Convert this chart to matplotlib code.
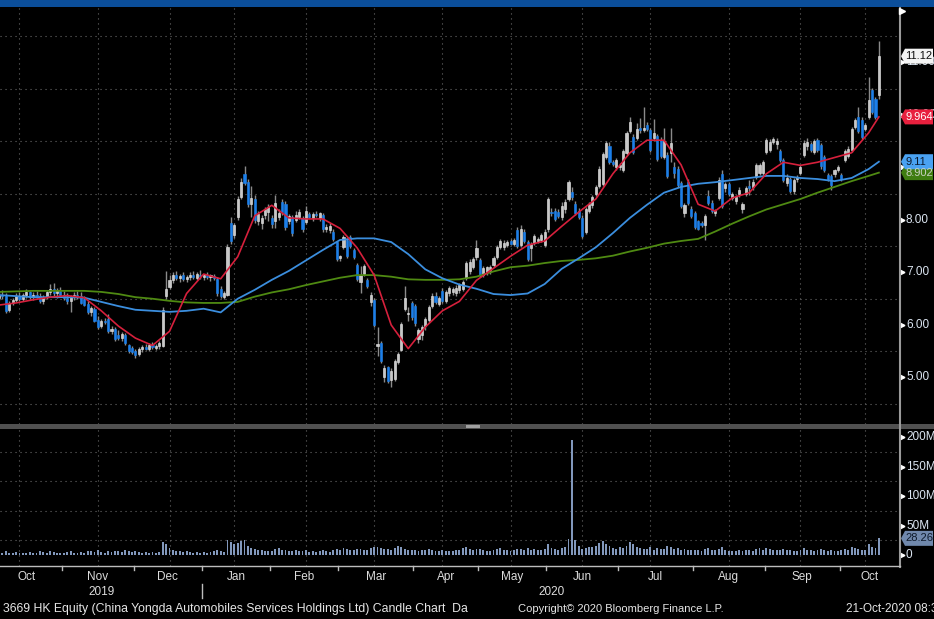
import numpy as np
import pandas as pd
import matplotlib
matplotlib.use('Agg')
import matplotlib.pyplot as plt
import matplotlib.transforms as mtransforms
from matplotlib.patches import Polygon, Rectangle
from matplotlib.lines import Line2D

plt.rcParams['font.family'] = ['Liberation Sans', 'DejaVu Sans']

# ---- data: daily candles (open, high, low, close) ----
oct19 = [(6.52, 6.62, 6.48, 6.58), (6.58, 6.66, 6.50, 6.55), (6.56, 6.60, 6.22, 6.27), (6.28, 6.45, 6.25, 6.42),
         (6.42, 6.52, 6.38, 6.48), (6.48, 6.60, 6.44, 6.56), (6.56, 6.62, 6.46, 6.50), (6.50, 6.60, 6.45, 6.57),
         (6.57, 6.68, 6.52, 6.62), (6.62, 6.65, 6.50, 6.53), (6.53, 6.62, 6.48, 6.58), (6.58, 6.64, 6.52, 6.55),
         (6.55, 6.60, 6.42, 6.46), (6.46, 6.58, 6.40, 6.54), (6.54, 6.66, 6.50, 6.62), (6.62, 6.78, 6.58, 6.68),
         (6.68, 6.80, 6.55, 6.60), (6.60, 6.70, 6.52, 6.65), (6.65, 6.72, 6.55, 6.58)]
nov19 = [(6.58, 6.64, 6.48, 6.52), (6.52, 6.60, 6.40, 6.45), (6.45, 6.58, 6.24, 6.55), (6.55, 6.62, 6.48, 6.58),
         (6.58, 6.64, 6.50, 6.56), (6.56, 6.62, 6.40, 6.42), (6.50, 6.55, 6.36, 6.38), (6.40, 6.46, 6.20, 6.24),
         (6.24, 6.36, 6.18, 6.32), (6.30, 6.34, 6.05, 6.08), (6.10, 6.18, 5.92, 5.96), (5.98, 6.12, 5.94, 6.08),
         (6.08, 6.14, 6.02, 6.05), (6.12, 6.20, 5.84, 5.88), (5.88, 5.98, 5.82, 5.93), (5.92, 5.96, 5.70, 5.74),
         (5.80, 5.90, 5.72, 5.76), (5.76, 5.86, 5.70, 5.82), (5.80, 5.84, 5.62, 5.66), (5.62, 5.64, 5.46, 5.50),
         (5.56, 5.60, 5.44, 5.48)]
dec19 = [(5.50, 5.54, 5.38, 5.42), (5.44, 5.58, 5.40, 5.54), (5.54, 5.62, 5.48, 5.58), (5.58, 5.64, 5.52, 5.55),
         (5.55, 5.66, 5.50, 5.62), (5.62, 5.68, 5.55, 5.58), (5.56, 5.64, 5.52, 5.60), (5.60, 5.70, 5.55, 5.66),
         (5.60, 6.34, 5.58, 6.28), (6.55, 7.02, 6.50, 6.68), (6.72, 6.95, 6.68, 6.86), (6.86, 7.00, 6.80, 6.95),
         (6.95, 7.02, 6.86, 6.90), (6.90, 6.98, 6.82, 6.94), (6.96, 7.00, 6.84, 6.87), (6.88, 6.96, 6.82, 6.92),
         (6.92, 7.00, 6.86, 6.96), (6.96, 7.02, 6.88, 6.92), (6.90, 7.00, 6.86, 6.97), (6.96, 7.04, 6.88, 6.93)]
jan20 = [(6.92, 6.98, 6.86, 6.95), (6.95, 7.00, 6.88, 6.92), (6.92, 6.98, 6.84, 6.96), (6.94, 6.98, 6.86, 6.90),
         (6.88, 6.92, 6.55, 6.60), (6.68, 6.75, 6.52, 6.56), (6.54, 6.64, 6.50, 6.60), (6.58, 7.55, 6.55, 7.48),
         (7.95, 8.05, 7.55, 7.60), (7.72, 7.95, 7.66, 7.90), (8.05, 8.45, 8.00, 8.40), (8.44, 8.80, 8.40, 8.72),
         (8.88, 9.03, 8.66, 8.70), (8.72, 8.78, 8.25, 8.30), (8.30, 8.65, 8.05, 8.42), (8.40, 8.48, 7.95, 8.00),
         (7.98, 8.18, 7.90, 8.12), (7.94, 8.10, 7.82, 8.04), (8.10, 8.25, 8.02, 8.20), (8.16, 8.30, 7.98, 8.24)]
feb20 = [(8.04, 8.10, 7.85, 7.92), (7.98, 8.48, 7.84, 8.32), (8.06, 8.20, 8.00, 8.14), (8.35, 8.40, 8.10, 8.15),
         (8.30, 8.36, 7.80, 7.86), (7.98, 8.12, 7.92, 8.08), (8.05, 8.10, 7.70, 7.76), (8.00, 8.18, 7.96, 8.10),
         (8.06, 8.20, 8.02, 8.16), (8.04, 8.08, 7.78, 7.82), (7.96, 8.26, 7.92, 8.18), (8.12, 8.16, 8.04, 8.06),
         (8.04, 8.16, 7.98, 8.12), (8.12, 8.18, 8.06, 8.10), (8.04, 8.16, 7.98, 8.14), (8.10, 8.14, 7.78, 7.82),
         (7.82, 7.92, 7.78, 7.86), (7.80, 7.94, 7.76, 7.88), (7.78, 7.82, 7.60, 7.64), (7.58, 7.60, 7.22, 7.26)]
mar20 = [(7.28, 7.34, 7.22, 7.30), (7.48, 7.72, 7.44, 7.68), (7.62, 7.66, 7.28, 7.32), (7.68, 7.72, 7.46, 7.50),
         (7.42, 7.46, 7.26, 7.30), (7.14, 7.18, 6.84, 6.88), (6.82, 7.12, 6.60, 6.96), (6.98, 7.16, 6.94, 7.12),
         (6.86, 6.90, 6.70, 6.74), (6.44, 6.62, 6.36, 6.58), (6.48, 6.52, 5.96, 6.00), (5.60, 5.96, 5.40, 5.64),
         (5.66, 5.70, 5.28, 5.32), (5.00, 5.24, 4.92, 5.18), (5.20, 5.22, 4.90, 4.94), (4.96, 5.18, 4.82, 5.12),
         (4.98, 5.36, 4.94, 5.32), (5.30, 5.48, 5.26, 5.44), (5.52, 6.06, 5.50, 6.02), (6.30, 6.74, 6.26, 6.52),
         (6.20, 6.34, 6.08, 6.22), (6.42, 6.46, 6.10, 6.16)]
apr20 = [(6.36, 6.40, 5.98, 6.04), (5.74, 5.94, 5.66, 5.90), (5.80, 6.00, 5.72, 5.96), (5.98, 6.16, 5.90, 6.12),
         (6.10, 6.38, 6.06, 6.34), (6.36, 6.60, 6.32, 6.56), (6.56, 6.62, 6.40, 6.44), (6.40, 6.56, 6.36, 6.52),
         (6.64, 6.70, 6.42, 6.46), (6.46, 6.66, 6.42, 6.62), (6.60, 6.74, 6.56, 6.70), (6.62, 6.72, 6.58, 6.68),
         (6.60, 6.76, 6.56, 6.70), (6.66, 6.80, 6.60, 6.76), (6.68, 6.86, 6.64, 6.82), (6.90, 7.22, 6.86, 7.18),
         (7.02, 7.26, 6.98, 7.20), (7.10, 7.30, 7.06, 7.26), (7.30, 7.62, 7.24, 7.46)]
may20 = [(7.24, 7.28, 6.92, 6.96), (6.96, 7.12, 6.92, 7.08), (7.00, 7.12, 6.96, 7.10), (7.02, 7.14, 6.98, 7.10),
         (7.14, 7.32, 7.10, 7.28), (7.30, 7.52, 7.26, 7.48), (7.48, 7.64, 7.44, 7.60), (7.48, 7.62, 7.42, 7.56),
         (7.52, 7.62, 7.48, 7.58), (7.60, 7.64, 7.52, 7.55), (7.54, 7.66, 7.50, 7.62), (7.80, 7.86, 7.46, 7.50),
         (7.52, 7.90, 7.48, 7.82), (7.78, 7.82, 7.56, 7.60), (7.58, 7.62, 7.22, 7.26), (7.46, 7.58, 7.22, 7.54),
         (7.56, 7.74, 7.52, 7.70), (7.60, 7.68, 7.56, 7.64), (7.62, 7.76, 7.58, 7.72), (7.52, 7.82, 7.48, 7.78)]
jun20 = [(7.82, 8.44, 7.78, 8.40), (8.16, 8.22, 8.08, 8.14), (8.18, 8.22, 7.98, 8.02), (8.16, 8.20, 8.04, 8.08),
         (8.06, 8.34, 8.00, 8.26), (8.20, 8.40, 8.14, 8.34), (8.40, 8.76, 8.36, 8.72), (8.54, 8.62, 8.38, 8.44),
         (8.30, 8.36, 8.10, 8.14), (8.18, 8.22, 8.02, 8.06), (8.04, 8.10, 7.66, 7.70), (7.78, 8.24, 7.74, 8.20),
         (8.18, 8.34, 8.14, 8.30), (8.28, 8.48, 8.22, 8.44), (8.50, 8.66, 8.46, 8.62), (8.64, 9.02, 8.60, 8.98),
         (8.68, 9.30, 8.64, 9.26), (9.20, 9.50, 9.16, 9.46), (9.40, 9.48, 9.06, 9.10), (9.10, 9.14, 9.02, 9.06),
         (9.00, 9.18, 8.96, 9.14)]
jul20 = [(9.00, 9.08, 8.96, 9.04), (8.96, 9.36, 8.92, 9.32), (9.28, 9.70, 9.24, 9.66), (9.70, 9.96, 9.66, 9.86),
         (9.58, 9.64, 9.26, 9.30), (9.56, 9.84, 9.52, 9.74), (9.76, 9.94, 9.66, 9.72), (9.72, 10.15, 9.68, 9.76),
         (9.80, 9.86, 9.70, 9.74), (9.72, 9.76, 9.30, 9.34), (9.56, 9.92, 9.50, 9.66), (9.60, 9.64, 9.12, 9.16),
         (9.52, 9.58, 9.18, 9.22), (9.20, 9.76, 9.16, 9.50), (9.24, 9.30, 8.80, 8.84), (9.28, 9.76, 9.10, 9.46),
         (9.00, 9.10, 8.80, 8.90), (8.98, 9.02, 8.62, 8.66), (8.70, 8.74, 8.22, 8.26), (8.14, 8.32, 8.06, 8.28),
         (8.72, 8.78, 8.28, 8.32), (8.20, 8.26, 8.04, 8.08)]
aug20 = [(8.14, 8.18, 7.82, 7.86), (7.98, 8.00, 7.80, 7.82), (7.94, 7.98, 7.86, 7.90), (7.90, 8.12, 7.62, 8.08),
         (8.46, 8.58, 8.28, 8.32), (8.32, 8.38, 8.14, 8.18), (8.14, 8.20, 8.08, 8.18), (8.42, 8.82, 8.38, 8.76),
         (8.88, 8.96, 8.22, 8.26), (8.60, 8.72, 8.54, 8.68), (8.68, 8.72, 8.46, 8.50), (8.42, 8.54, 8.38, 8.50),
         (8.36, 8.48, 8.30, 8.44), (8.50, 8.62, 8.44, 8.58), (8.20, 8.34, 8.14, 8.30), (8.50, 8.64, 8.46, 8.60),
         (8.64, 8.76, 8.48, 8.60), (8.62, 8.78, 8.58, 8.72), (8.82, 9.08, 8.78, 9.04), (8.90, 9.08, 8.86, 9.04),
         (8.90, 9.14, 8.86, 9.10)]
sep20 = [(9.30, 9.56, 9.26, 9.52), (9.34, 9.54, 9.30, 9.48), (9.48, 9.58, 9.44, 9.54), (9.44, 9.56, 9.36, 9.50),
         (9.32, 9.36, 9.10, 9.14), (9.14, 9.18, 8.72, 8.76), (8.70, 8.88, 8.64, 8.80), (8.78, 8.82, 8.52, 8.56),
         (8.56, 8.80, 8.50, 8.76), (8.78, 8.86, 8.72, 8.82), (8.90, 9.04, 8.86, 9.00), (9.24, 9.52, 9.20, 9.46),
         (9.40, 9.56, 9.34, 9.48), (9.44, 9.48, 9.30, 9.34), (9.30, 9.54, 9.26, 9.50), (9.52, 9.56, 9.30, 9.34),
         (9.42, 9.46, 8.98, 9.02), (9.20, 9.24, 8.92, 8.96), (8.86, 8.90, 8.74, 8.78), (8.84, 8.88, 8.58, 8.66),
         (8.88, 8.98, 8.82, 8.95), (8.96, 9.04, 8.92, 9.00)]
oct20 = [(8.86, 8.90, 8.74, 8.78), (9.14, 9.36, 9.10, 9.32), (9.22, 9.40, 9.18, 9.36), (9.34, 9.78, 9.30, 9.74),
         (9.78, 9.94, 9.74, 9.90), (9.96, 10.15, 9.66, 9.70), (9.90, 9.96, 9.54, 9.58), (9.74, 9.84, 9.70, 9.80),
         (9.96, 10.72, 9.92, 10.28), (10.48, 10.52, 10.02, 10.06), (10.30, 10.34, 9.92, 9.96), (10.38, 11.40, 10.30, 11.12)]

# volume, millions
vol_oct19 = [4, 3, 6, 4, 3, 5, 4, 3, 4, 5, 3, 4, 6, 5, 4, 7, 5, 4, 3]
vol_nov19 = [4, 5, 6, 4, 3, 5, 4, 6, 7, 5, 8, 5, 4, 6, 5, 7, 6, 5, 8, 6, 5]
vol_dec19 = [6, 5, 4, 5, 4, 5, 4, 5, 22, 18, 12, 8, 6, 7, 5, 6, 5, 4, 5, 4]
vol_jan20 = [5, 4, 5, 6, 8, 6, 5, 25, 22, 18, 20, 24, 26, 15, 12, 10, 8, 9, 7, 6]
vol_feb20 = [7, 10, 12, 8, 9, 7, 6, 8, 7, 6, 8, 5, 6, 5, 7, 9, 6, 5, 8, 10]
vol_mar20 = [8, 12, 10, 9, 8, 11, 10, 9, 8, 12, 14, 13, 12, 10, 11, 9, 12, 16, 14, 10, 8, 9]
vol_apr20 = [8, 7, 8, 9, 10, 8, 7, 6, 8, 7, 6, 7, 8, 9, 12, 14, 10, 9, 11]
vol_may20 = [10, 8, 7, 6, 8, 10, 12, 9, 8, 7, 8, 11, 10, 9, 12, 9, 10, 8, 9, 10]
vol_jun20 = [18, 12, 10, 9, 12, 14, 28, 195, 25, 15, 10, 12, 14, 13, 15, 20, 24, 18, 16, 12, 10]
vol_jul20 = [14, 12, 16, 22, 18, 14, 12, 10, 11, 14, 9, 12, 11, 10, 16, 13, 10, 12, 9, 10, 8, 9]
vol_aug20 = [9, 8, 7, 10, 12, 9, 8, 11, 13, 8, 7, 6, 7, 8, 6, 9, 8, 7, 10, 12, 9]
vol_sep20 = [12, 10, 9, 8, 9, 11, 8, 9, 7, 6, 8, 12, 9, 8, 7, 9, 11, 8, 7, 9, 6, 7]
vol_oct20 = [8, 10, 9, 14, 12, 10, 9, 8, 18, 14, 12, 28.268]

# moving averages, sampled every 5th session (last point = last session)
ma_red = [6.38, 6.42, 6.48, 6.53, 6.56, 6.52, 6.27, 5.98, 5.75, 5.61, 5.88, 6.60, 6.97, 6.88, 7.30,
          8.08, 8.28, 8.04, 8.02, 8.02, 7.84, 7.47, 6.95, 6.00, 5.55, 5.96, 6.27, 6.45, 6.85, 7.08,
          7.31, 7.52, 7.60, 7.88, 8.15, 8.40, 8.88, 9.28, 9.52, 9.52, 9.05, 8.30, 8.17, 8.42, 8.52,
          8.88, 9.10, 9.04, 9.10, 9.19, 9.28, 9.66, 9.964]
ma_blue = [6.57, 6.55, 6.53, 6.53, 6.53, 6.52, 6.44, 6.36, 6.29, 6.27, 6.25, 6.27, 6.31, 6.24, 6.50,
           6.67, 6.86, 7.03, 7.23, 7.43, 7.62, 7.65, 7.65, 7.58, 7.35, 7.06, 6.89, 6.77, 6.69, 6.59,
           6.57, 6.60, 6.78, 7.07, 7.27, 7.48, 7.75, 8.04, 8.29, 8.52, 8.63, 8.69, 8.72, 8.76, 8.80,
           8.84, 8.84, 8.80, 8.78, 8.74, 8.80, 8.97, 9.11]
ma_green = [6.63, 6.64, 6.65, 6.65, 6.65, 6.65, 6.63, 6.59, 6.53, 6.50, 6.46, 6.43, 6.42, 6.42, 6.44,
            6.54, 6.62, 6.68, 6.76, 6.83, 6.90, 6.95, 6.95, 6.92, 6.87, 6.86, 6.86, 6.87, 6.92, 7.02,
            7.10, 7.13, 7.18, 7.22, 7.24, 7.27, 7.32, 7.40, 7.47, 7.55, 7.60, 7.64, 7.78, 7.93, 8.07,
            8.20, 8.30, 8.40, 8.52, 8.63, 8.74, 8.84, 8.902]

hk_holidays = ['2019-10-07', '2019-12-25', '2019-12-26', '2020-01-01', '2020-01-27', '2020-01-28',
               '2020-04-10', '2020-04-13', '2020-04-30', '2020-05-01', '2020-06-25', '2020-07-01',
               '2020-10-01', '2020-10-02', '2020-10-13']
month_names = ['Oct', 'Nov', 'Dec', 'Jan', 'Feb', 'Mar', 'Apr', 'May', 'Jun', 'Jul', 'Aug', 'Sep', 'Oct']

candles = oct19 + nov19 + dec19 + jan20 + feb20 + mar20 + apr20 + may20 + jun20 + jul20 + aug20 + sep20 + oct20
volume = (vol_oct19 + vol_nov19 + vol_dec19 + vol_jan20 + vol_feb20 + vol_mar20 + vol_apr20 + vol_may20
          + vol_jun20 + vol_jul20 + vol_aug20 + vol_sep20 + vol_oct20)

dates = pd.bdate_range('2019-10-04', '2020-10-21')
dates = dates[~dates.isin(pd.to_datetime(hk_holidays))]
n = len(dates)
o, h, l, c = np.array(candles[:n]).T
x = np.arange(n)
ma_x = list(range(0, n, 5)) + [n - 1]

# ---- figure ----
W, H = 934, 619
fig = plt.figure(figsize=(W / 100, H / 100), dpi=100, facecolor='black')
ident = mtransforms.IdentityTransform()
FS = 8.5


def py(v):
    # pixel row from top -> display y
    return H - v


ax = fig.add_axes([0, 1 - 424 / H, 899 / W, (424 - 8) / H])
axv = fig.add_axes([0, 1 - 566 / H, 899 / W, (566 - 429) / H])
XL = (0.293, 263.9)
for a in (ax, axv):
    a.set_facecolor('black')
    a.set_xlim(*XL)
    for s in a.spines.values():
        s.set_visible(False)
    a.set_xticks([])
    a.set_yticks([])
ax.set_ylim(4.114, 12.038)
axv.set_ylim(-18.6, 213.6)

# grid lines: mid-month verticals, half-unit horizontals
mid_idx = []
month_first = []
for per in pd.period_range('2019-10', '2020-10', freq='M'):
    inm = np.where(dates.to_period('M') == per)[0]
    month_first.append(inm[0])
    d15 = np.where((dates.to_period('M') == per) & (dates.day >= 15))[0]
    if len(d15):
        mid_idx.append(d15[0])
gstyle = dict(color='#6a6a6a', lw=0.8, linestyle=(0, (1, 3.5)), zorder=0)
for gx in mid_idx:
    ax.axvline(gx, **gstyle)
    axv.axvline(gx, **gstyle)
for gy in np.arange(4.5, 12, 1.0):
    ax.axhline(gy, **gstyle)
for gy in [25, 75, 125, 175]:
    axv.axhline(gy, **gstyle)

# candles
up = c >= o
body = c - o
body = np.where(np.abs(body) < 0.025, np.where(up, 0.025, -0.025), body)
ax.vlines(x, l, h, color='#8a8a8a', lw=1.0, zorder=2)
ax.bar(x[up], body[up], bottom=o[up], width=0.62, color='#c8c8c8', edgecolor='#ececec', lw=0.4, zorder=3)
ax.bar(x[~up], body[~up], bottom=o[~up], width=0.62, color='#1b7fea', edgecolor='#1b7fea', lw=0.4, zorder=3)

# moving averages
ax.plot(ma_x, ma_green, color='#4f8a12', lw=1.3, zorder=4)
ax.plot(ma_x, ma_blue, color='#3b8ede', lw=1.3, zorder=4)
ax.plot(ma_x, ma_red, color='#d6203c', lw=1.2, zorder=5)

# volume bars
axv.bar(x, volume[:n], width=0.55, color='#8298bc', zorder=2)

# right axis labels with little arrow markers
lab_kw = dict(color='#dce6f2', fontsize=FS, va='center', ha='left')
bl = mtransforms.blended_transform_factory(ax.transAxes, ax.transData)
for p in range(5, 12):
    ax.text(1.0 + 7 / 899, p, '%.2f' % p, transform=bl, clip_on=False, **lab_kw)
    ax.plot([1.0 + 2.5 / 899], [p], marker='>', ms=3.5, color='white', transform=bl, clip_on=False)
blv = mtransforms.blended_transform_factory(axv.transAxes, axv.transData)
for vv, lab in [(0, '0'), (50, '50M'), (100, '100M'), (150, '150M'), (200, '200M')]:
    axv.text(1.0 + 7 / 899, vv, lab, transform=blv, clip_on=False, **lab_kw)
    axv.plot([1.0 + 2.5 / 899], [vv], marker='>', ms=3.5, color='white', transform=blv, clip_on=False)


def tag(a, val, txt, fc, tc):
    yc = a.transData.transform((0, val))[1]
    x0, x1, x2 = 901, 905, 933
    hh = 7.5
    poly = Polygon([(x0, yc), (x1, yc + hh), (x2, yc + hh), (x2, yc - hh), (x1, yc - hh)],
                   closed=True, facecolor=fc, edgecolor='none', transform=ident, zorder=10)
    fig.add_artist(poly)
    fig.text(x1 + 0.5, yc, txt, color=tc, fontsize=8, va='center', ha='left', transform=ident, zorder=11)


tag(ax, 11.12, '11.12', '#f4f4f4', '#101010')
tag(ax, 9.964, '9.964', '#e8203e', '#ffffff')
tag(ax, 8.902, '8.902', '#3f7d10', '#c8d0c0')
tag(ax, 9.11, '9.11', '#4aa2f2', '#0a1a30')
tag(axv, 28.268, '28.268', '#7088ac', '#0e1a2c')

# frame pieces: top band, panel splitter, right spine, bottom line
fig.add_artist(Rectangle((0, py(7)), W, 7, facecolor='#0b4e9a', edgecolor='none', transform=ident))
fig.add_artist(Rectangle((0, py(429)), W, 5, facecolor='#505050', edgecolor='none', transform=ident))
fig.add_artist(Rectangle((466, py(428)), 14, 3, facecolor='#a0a0a0', edgecolor='none', transform=ident))
fig.add_artist(Line2D([900, 900], [py(8), py(567)], color='#9a9a9a', lw=1.5, transform=ident))
fig.add_artist(Line2D([0, 900], [py(566), py(566)], color='#bdbdbd', lw=1.0, transform=ident))
fig.add_artist(Line2D([902], [py(11)], marker='>', ms=4, color='white', transform=ident))


# month ticks and labels along the bottom
def xpix(i):
    return ax.transData.transform((i, 0))[0]


bounds = [b - 0.5 for b in month_first] + [n - 0.5]
for b in month_first[1:]:
    xp = xpix(b - 0.5)
    fig.add_artist(Line2D([xp, xp], [py(566), py(570)], color='#bdbdbd', lw=1.0, transform=ident))
for k, name in enumerate(month_names):
    lo = max(bounds[k], XL[0])
    hi = min(bounds[k + 1], XL[1]) if k < len(month_names) - 1 else XL[1]
    fig.text(xpix((lo + hi) / 2) - (4 if k == 0 else 0), py(577), name, color='#dcdcdc', fontsize=FS,
             ha='center', va='center', transform=ident)
fig.text(xpix(month_first[1] + 11), py(592), '2019', color='#dcdcdc', fontsize=FS,
         ha='center', va='center', transform=ident)
fig.text(xpix(month_first[8] + 1), py(592), '2020', color='#dcdcdc', fontsize=FS,
         ha='center', va='center', transform=ident)
xj = xpix(month_first[3] - 0.5)
fig.add_artist(Line2D([xj, xj], [py(584), py(598)], color='#bdbdbd', lw=1.0, transform=ident))

# footer
fig.text(3, py(609), '3669 HK Equity (China Yongda Automobiles Services Holdings Ltd) Candle Chart  Da',
         color='#e6e6e6', fontsize=8.8, ha='left', va='center', transform=ident)
fig.text(518, py(609), 'Copyright\u00a9 2020 Bloomberg Finance L.P.', color='#e6e6e6', fontsize=8,
         ha='left', va='center', transform=ident)
fig.text(846, py(609), '21-Oct-2020 08:37:11', color='#e6e6e6', fontsize=FS,
         ha='left', va='center', transform=ident)

fig.savefig('out.png', dpi=100, facecolor='black')
